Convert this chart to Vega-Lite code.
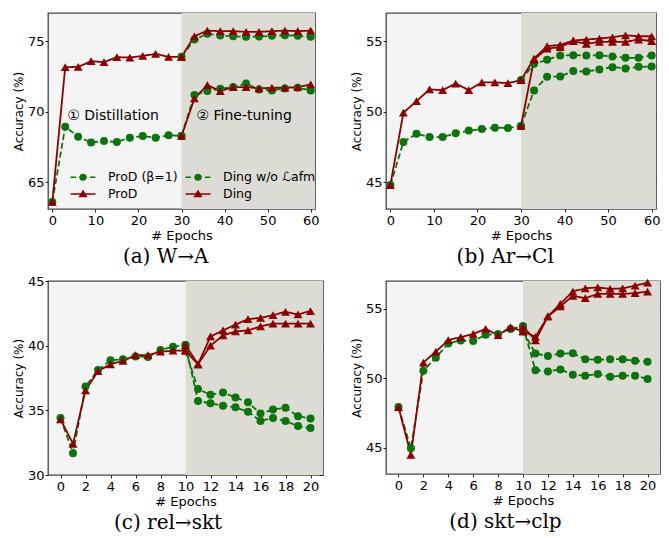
{
"$schema": "https://vega.github.io/schema/vega-lite/v6.json",
"background": "white",
"padding": {"top": 12, "left": 11, "right": 2, "bottom": 0},
"datasets": {
"phases": [
{"p":"a","phase":"① Distillation","start":0,"end":30},{"p":"a","phase":"② Fine-tuning","start":30,"end":60},
{"p":"b","phase":"① Distillation","start":0,"end":30},{"p":"b","phase":"② Fine-tuning","start":30,"end":60},
{"p":"c","phase":"① Distillation","start":0,"end":10},{"p":"c","phase":"② Fine-tuning","start":10,"end":20},
{"p":"d","phase":"① Distillation","start":0,"end":10},{"p":"d","phase":"② Fine-tuning","start":10,"end":20}
],
"acc": [
{"p":"a","r":"b1","m":"ProD (β=1)","e":0,"v":63.6},{"p":"a","r":"b1","m":"ProD (β=1)","e":3,"v":68.94},{"p":"a","r":"b1","m":"ProD (β=1)","e":6,"v":68.23},{"p":"a","r":"b1","m":"ProD (β=1)","e":9,"v":67.81},{"p":"a","r":"b1","m":"ProD (β=1)","e":12,"v":67.92},{"p":"a","r":"b1","m":"ProD (β=1)","e":15,"v":67.85},{"p":"a","r":"b1","m":"ProD (β=1)","e":18,"v":68.16},{"p":"a","r":"b1","m":"ProD (β=1)","e":21,"v":68.28},{"p":"a","r":"b1","m":"ProD (β=1)","e":24,"v":68.16},{"p":"a","r":"b1","m":"ProD (β=1)","e":27,"v":68.33},{"p":"a","r":"b1","m":"ProD (β=1)","e":30,"v":68.28},
{"p":"a","r":"w1","m":"Ding w/o ℒafm","e":30,"v":73.89},{"p":"a","r":"w1","m":"Ding w/o ℒafm","e":33,"v":75.12},{"p":"a","r":"w1","m":"Ding w/o ℒafm","e":36,"v":75.52},{"p":"a","r":"w1","m":"Ding w/o ℒafm","e":39,"v":75.4},{"p":"a","r":"w1","m":"Ding w/o ℒafm","e":42,"v":75.35},{"p":"a","r":"w1","m":"Ding w/o ℒafm","e":45,"v":75.31},{"p":"a","r":"w1","m":"Ding w/o ℒafm","e":48,"v":75.33},{"p":"a","r":"w1","m":"Ding w/o ℒafm","e":51,"v":75.38},{"p":"a","r":"w1","m":"Ding w/o ℒafm","e":54,"v":75.42},{"p":"a","r":"w1","m":"Ding w/o ℒafm","e":57,"v":75.38},{"p":"a","r":"w1","m":"Ding w/o ℒafm","e":60,"v":75.31},
{"p":"a","r":"w2","m":"Ding w/o ℒafm","e":30,"v":68.28},{"p":"a","r":"w2","m":"Ding w/o ℒafm","e":33,"v":71.18},{"p":"a","r":"w2","m":"Ding w/o ℒafm","e":36,"v":71.46},{"p":"a","r":"w2","m":"Ding w/o ℒafm","e":39,"v":71.63},{"p":"a","r":"w2","m":"Ding w/o ℒafm","e":42,"v":71.75},{"p":"a","r":"w2","m":"Ding w/o ℒafm","e":45,"v":72.0},{"p":"a","r":"w2","m":"Ding w/o ℒafm","e":48,"v":71.58},{"p":"a","r":"w2","m":"Ding w/o ℒafm","e":51,"v":71.51},{"p":"a","r":"w2","m":"Ding w/o ℒafm","e":54,"v":71.65},{"p":"a","r":"w2","m":"Ding w/o ℒafm","e":57,"v":71.7},{"p":"a","r":"w2","m":"Ding w/o ℒafm","e":60,"v":71.51},
{"p":"a","r":"pd","m":"ProD","e":0,"v":63.6},{"p":"a","r":"pd","m":"ProD","e":3,"v":73.16},{"p":"a","r":"pd","m":"ProD","e":6,"v":73.18},{"p":"a","r":"pd","m":"ProD","e":9,"v":73.58},{"p":"a","r":"pd","m":"ProD","e":12,"v":73.51},{"p":"a","r":"pd","m":"ProD","e":15,"v":73.87},{"p":"a","r":"pd","m":"ProD","e":18,"v":73.84},{"p":"a","r":"pd","m":"ProD","e":21,"v":73.96},{"p":"a","r":"pd","m":"ProD","e":24,"v":74.1},{"p":"a","r":"pd","m":"ProD","e":27,"v":73.89},{"p":"a","r":"pd","m":"ProD","e":30,"v":73.89},
{"p":"a","r":"d1","m":"Ding","e":30,"v":73.89},{"p":"a","r":"d1","m":"Ding","e":33,"v":75.35},{"p":"a","r":"d1","m":"Ding","e":36,"v":75.75},{"p":"a","r":"d1","m":"Ding","e":39,"v":75.71},{"p":"a","r":"d1","m":"Ding","e":42,"v":75.71},{"p":"a","r":"d1","m":"Ding","e":45,"v":75.66},{"p":"a","r":"d1","m":"Ding","e":48,"v":75.66},{"p":"a","r":"d1","m":"Ding","e":51,"v":75.71},{"p":"a","r":"d1","m":"Ding","e":54,"v":75.75},{"p":"a","r":"d1","m":"Ding","e":57,"v":75.71},{"p":"a","r":"d1","m":"Ding","e":60,"v":75.75},
{"p":"a","r":"d2","m":"Ding","e":30,"v":68.28},{"p":"a","r":"d2","m":"Ding","e":33,"v":70.94},{"p":"a","r":"d2","m":"Ding","e":36,"v":71.89},{"p":"a","r":"d2","m":"Ding","e":39,"v":71.46},{"p":"a","r":"d2","m":"Ding","e":42,"v":71.75},{"p":"a","r":"d2","m":"Ding","e":45,"v":71.75},{"p":"a","r":"d2","m":"Ding","e":48,"v":71.65},{"p":"a","r":"d2","m":"Ding","e":51,"v":71.7},{"p":"a","r":"d2","m":"Ding","e":54,"v":71.7},{"p":"a","r":"d2","m":"Ding","e":57,"v":71.75},{"p":"a","r":"d2","m":"Ding","e":60,"v":71.93},

{"p":"b","r":"b1","m":"ProD (β=1)","e":0,"v":44.8},{"p":"b","r":"b1","m":"ProD (β=1)","e":3,"v":47.85},{"p":"b","r":"b1","m":"ProD (β=1)","e":6,"v":48.44},{"p":"b","r":"b1","m":"ProD (β=1)","e":9,"v":48.2},{"p":"b","r":"b1","m":"ProD (β=1)","e":12,"v":48.2},{"p":"b","r":"b1","m":"ProD (β=1)","e":15,"v":48.47},{"p":"b","r":"b1","m":"ProD (β=1)","e":18,"v":48.66},{"p":"b","r":"b1","m":"ProD (β=1)","e":21,"v":48.77},{"p":"b","r":"b1","m":"ProD (β=1)","e":24,"v":48.87},{"p":"b","r":"b1","m":"ProD (β=1)","e":27,"v":48.84},{"p":"b","r":"b1","m":"ProD (β=1)","e":30,"v":48.99},
{"p":"b","r":"w1","m":"Ding w/o ℒafm","e":30,"v":52.24},{"p":"b","r":"w1","m":"Ding w/o ℒafm","e":33,"v":53.4},{"p":"b","r":"w1","m":"Ding w/o ℒafm","e":36,"v":53.68},{"p":"b","r":"w1","m":"Ding w/o ℒafm","e":39,"v":53.99},{"p":"b","r":"w1","m":"Ding w/o ℒafm","e":42,"v":54.01},{"p":"b","r":"w1","m":"Ding w/o ℒafm","e":45,"v":53.99},{"p":"b","r":"w1","m":"Ding w/o ℒafm","e":48,"v":54.0},{"p":"b","r":"w1","m":"Ding w/o ℒafm","e":51,"v":53.92},{"p":"b","r":"w1","m":"Ding w/o ℒafm","e":54,"v":53.82},{"p":"b","r":"w1","m":"Ding w/o ℒafm","e":57,"v":53.82},{"p":"b","r":"w1","m":"Ding w/o ℒafm","e":60,"v":53.99},
{"p":"b","r":"w2","m":"Ding w/o ℒafm","e":30,"v":48.99},{"p":"b","r":"w2","m":"Ding w/o ℒafm","e":33,"v":51.51},{"p":"b","r":"w2","m":"Ding w/o ℒafm","e":36,"v":52.48},{"p":"b","r":"w2","m":"Ding w/o ℒafm","e":39,"v":52.5},{"p":"b","r":"w2","m":"Ding w/o ℒafm","e":42,"v":52.88},{"p":"b","r":"w2","m":"Ding w/o ℒafm","e":45,"v":52.85},{"p":"b","r":"w2","m":"Ding w/o ℒafm","e":48,"v":53.0},{"p":"b","r":"w2","m":"Ding w/o ℒafm","e":51,"v":53.16},{"p":"b","r":"w2","m":"Ding w/o ℒafm","e":54,"v":53.07},{"p":"b","r":"w2","m":"Ding w/o ℒafm","e":57,"v":53.18},{"p":"b","r":"w2","m":"Ding w/o ℒafm","e":60,"v":53.2},
{"p":"b","r":"pd","m":"ProD","e":0,"v":44.8},{"p":"b","r":"pd","m":"ProD","e":3,"v":49.93},{"p":"b","r":"pd","m":"ProD","e":6,"v":50.75},{"p":"b","r":"pd","m":"ProD","e":9,"v":51.58},{"p":"b","r":"pd","m":"ProD","e":12,"v":51.53},{"p":"b","r":"pd","m":"ProD","e":15,"v":52.0},{"p":"b","r":"pd","m":"ProD","e":18,"v":51.53},{"p":"b","r":"pd","m":"ProD","e":21,"v":52.08},{"p":"b","r":"pd","m":"ProD","e":24,"v":52.08},{"p":"b","r":"pd","m":"ProD","e":27,"v":52.03},{"p":"b","r":"pd","m":"ProD","e":30,"v":52.24},
{"p":"b","r":"d1","m":"Ding","e":30,"v":52.24},{"p":"b","r":"d1","m":"Ding","e":33,"v":53.77},{"p":"b","r":"d1","m":"Ding","e":36,"v":54.65},{"p":"b","r":"d1","m":"Ding","e":39,"v":54.74},{"p":"b","r":"d1","m":"Ding","e":42,"v":55.05},{"p":"b","r":"d1","m":"Ding","e":45,"v":55.12},{"p":"b","r":"d1","m":"Ding","e":48,"v":55.19},{"p":"b","r":"d1","m":"Ding","e":51,"v":55.28},{"p":"b","r":"d1","m":"Ding","e":54,"v":55.42},{"p":"b","r":"d1","m":"Ding","e":57,"v":55.35},{"p":"b","r":"d1","m":"Ding","e":60,"v":55.35},
{"p":"b","r":"d2","m":"Ding","e":30,"v":48.99},{"p":"b","r":"d2","m":"Ding","e":33,"v":53.7},{"p":"b","r":"d2","m":"Ding","e":36,"v":54.48},{"p":"b","r":"d2","m":"Ding","e":39,"v":54.58},{"p":"b","r":"d2","m":"Ding","e":42,"v":55.0},{"p":"b","r":"d2","m":"Ding","e":45,"v":54.81},{"p":"b","r":"d2","m":"Ding","e":48,"v":54.95},{"p":"b","r":"d2","m":"Ding","e":51,"v":54.95},{"p":"b","r":"d2","m":"Ding","e":54,"v":54.95},{"p":"b","r":"d2","m":"Ding","e":57,"v":55.12},{"p":"b","r":"d2","m":"Ding","e":60,"v":55.0},

{"p":"c","r":"b1","m":"ProD (β=1)","e":0,"v":34.41},{"p":"c","r":"b1","m":"ProD (β=1)","e":1,"v":31.69},{"p":"c","r":"b1","m":"ProD (β=1)","e":2,"v":36.85},{"p":"c","r":"b1","m":"ProD (β=1)","e":3,"v":38.11},{"p":"c","r":"b1","m":"ProD (β=1)","e":4,"v":38.87},{"p":"c","r":"b1","m":"ProD (β=1)","e":5,"v":38.95},{"p":"c","r":"b1","m":"ProD (β=1)","e":6,"v":39.16},{"p":"c","r":"b1","m":"ProD (β=1)","e":7,"v":39.13},{"p":"c","r":"b1","m":"ProD (β=1)","e":8,"v":39.66},{"p":"c","r":"b1","m":"ProD (β=1)","e":9,"v":39.92},{"p":"c","r":"b1","m":"ProD (β=1)","e":10,"v":40.05},
{"p":"c","r":"w1","m":"Ding w/o ℒafm","e":10,"v":39.61},{"p":"c","r":"w1","m":"Ding w/o ℒafm","e":11,"v":36.64},{"p":"c","r":"w1","m":"Ding w/o ℒafm","e":12,"v":36.2},{"p":"c","r":"w1","m":"Ding w/o ℒafm","e":13,"v":36.38},{"p":"c","r":"w1","m":"Ding w/o ℒafm","e":14,"v":35.99},{"p":"c","r":"w1","m":"Ding w/o ℒafm","e":15,"v":35.62},{"p":"c","r":"w1","m":"Ding w/o ℒafm","e":16,"v":34.75},{"p":"c","r":"w1","m":"Ding w/o ℒafm","e":17,"v":35.07},{"p":"c","r":"w1","m":"Ding w/o ℒafm","e":18,"v":35.2},{"p":"c","r":"w1","m":"Ding w/o ℒafm","e":19,"v":34.55},{"p":"c","r":"w1","m":"Ding w/o ℒafm","e":20,"v":34.36},
{"p":"c","r":"w2","m":"Ding w/o ℒafm","e":10,"v":40.05},{"p":"c","r":"w2","m":"Ding w/o ℒafm","e":11,"v":35.73},{"p":"c","r":"w2","m":"Ding w/o ℒafm","e":12,"v":35.54},{"p":"c","r":"w2","m":"Ding w/o ℒafm","e":13,"v":35.36},{"p":"c","r":"w2","m":"Ding w/o ℒafm","e":14,"v":35.23},{"p":"c","r":"w2","m":"Ding w/o ℒafm","e":15,"v":34.89},{"p":"c","r":"w2","m":"Ding w/o ℒafm","e":16,"v":34.18},{"p":"c","r":"w2","m":"Ding w/o ℒafm","e":17,"v":34.41},{"p":"c","r":"w2","m":"Ding w/o ℒafm","e":18,"v":34.18},{"p":"c","r":"w2","m":"Ding w/o ℒafm","e":19,"v":33.78},{"p":"c","r":"w2","m":"Ding w/o ℒafm","e":20,"v":33.63},
{"p":"c","r":"pd","m":"ProD","e":0,"v":34.31},{"p":"c","r":"pd","m":"ProD","e":1,"v":32.4},{"p":"c","r":"pd","m":"ProD","e":2,"v":36.54},{"p":"c","r":"pd","m":"ProD","e":3,"v":38.03},{"p":"c","r":"pd","m":"ProD","e":4,"v":38.56},{"p":"c","r":"pd","m":"ProD","e":5,"v":38.82},{"p":"c","r":"pd","m":"ProD","e":6,"v":39.27},{"p":"c","r":"pd","m":"ProD","e":7,"v":39.27},{"p":"c","r":"pd","m":"ProD","e":8,"v":39.53},{"p":"c","r":"pd","m":"ProD","e":9,"v":39.61},{"p":"c","r":"pd","m":"ProD","e":10,"v":39.61},
{"p":"c","r":"d1","m":"Ding","e":10,"v":39.61},{"p":"c","r":"d1","m":"Ding","e":11,"v":38.56},{"p":"c","r":"d1","m":"Ding","e":12,"v":40.71},{"p":"c","r":"d1","m":"Ding","e":13,"v":41.18},{"p":"c","r":"d1","m":"Ding","e":14,"v":41.63},{"p":"c","r":"d1","m":"Ding","e":15,"v":42.05},{"p":"c","r":"d1","m":"Ding","e":16,"v":42.15},{"p":"c","r":"d1","m":"Ding","e":17,"v":42.36},{"p":"c","r":"d1","m":"Ding","e":18,"v":42.62},{"p":"c","r":"d1","m":"Ding","e":19,"v":42.41},{"p":"c","r":"d1","m":"Ding","e":20,"v":42.68},
{"p":"c","r":"d2","m":"Ding","e":10,"v":40.05},{"p":"c","r":"d2","m":"Ding","e":11,"v":38.56},{"p":"c","r":"d2","m":"Ding","e":12,"v":40.0},{"p":"c","r":"d2","m":"Ding","e":13,"v":40.79},{"p":"c","r":"d2","m":"Ding","e":14,"v":41.1},{"p":"c","r":"d2","m":"Ding","e":15,"v":41.18},{"p":"c","r":"d2","m":"Ding","e":16,"v":41.49},{"p":"c","r":"d2","m":"Ding","e":17,"v":41.7},{"p":"c","r":"d2","m":"Ding","e":18,"v":41.7},{"p":"c","r":"d2","m":"Ding","e":19,"v":41.7},{"p":"c","r":"d2","m":"Ding","e":20,"v":41.7},

{"p":"d","r":"b1","m":"ProD (β=1)","e":0,"v":47.92},{"p":"d","r":"b1","m":"ProD (β=1)","e":1,"v":44.95},{"p":"d","r":"b1","m":"ProD (β=1)","e":2,"v":50.53},{"p":"d","r":"b1","m":"ProD (β=1)","e":3,"v":51.48},{"p":"d","r":"b1","m":"ProD (β=1)","e":4,"v":52.5},{"p":"d","r":"b1","m":"ProD (β=1)","e":5,"v":52.72},{"p":"d","r":"b1","m":"ProD (β=1)","e":6,"v":52.67},{"p":"d","r":"b1","m":"ProD (β=1)","e":7,"v":53.12},{"p":"d","r":"b1","m":"ProD (β=1)","e":8,"v":53.19},{"p":"d","r":"b1","m":"ProD (β=1)","e":9,"v":53.55},{"p":"d","r":"b1","m":"ProD (β=1)","e":10,"v":53.74},
{"p":"d","r":"w1","m":"Ding w/o ℒafm","e":10,"v":53.38},{"p":"d","r":"w1","m":"Ding w/o ℒafm","e":11,"v":51.77},{"p":"d","r":"w1","m":"Ding w/o ℒafm","e":12,"v":51.6},{"p":"d","r":"w1","m":"Ding w/o ℒafm","e":13,"v":51.77},{"p":"d","r":"w1","m":"Ding w/o ℒafm","e":14,"v":51.79},{"p":"d","r":"w1","m":"Ding w/o ℒafm","e":15,"v":51.37},{"p":"d","r":"w1","m":"Ding w/o ℒafm","e":16,"v":51.32},{"p":"d","r":"w1","m":"Ding w/o ℒafm","e":17,"v":51.37},{"p":"d","r":"w1","m":"Ding w/o ℒafm","e":18,"v":51.37},{"p":"d","r":"w1","m":"Ding w/o ℒafm","e":19,"v":51.25},{"p":"d","r":"w1","m":"Ding w/o ℒafm","e":20,"v":51.18},
{"p":"d","r":"w2","m":"Ding w/o ℒafm","e":10,"v":53.74},{"p":"d","r":"w2","m":"Ding w/o ℒafm","e":11,"v":50.58},{"p":"d","r":"w2","m":"Ding w/o ℒafm","e":12,"v":50.49},{"p":"d","r":"w2","m":"Ding w/o ℒafm","e":13,"v":50.63},{"p":"d","r":"w2","m":"Ding w/o ℒafm","e":14,"v":50.25},{"p":"d","r":"w2","m":"Ding w/o ℒafm","e":15,"v":50.18},{"p":"d","r":"w2","m":"Ding w/o ℒafm","e":16,"v":50.3},{"p":"d","r":"w2","m":"Ding w/o ℒafm","e":17,"v":50.1},{"p":"d","r":"w2","m":"Ding w/o ℒafm","e":18,"v":50.18},{"p":"d","r":"w2","m":"Ding w/o ℒafm","e":19,"v":50.18},{"p":"d","r":"w2","m":"Ding w/o ℒafm","e":20,"v":49.95},
{"p":"d","r":"pd","m":"ProD","e":0,"v":47.92},{"p":"d","r":"pd","m":"ProD","e":1,"v":44.48},{"p":"d","r":"pd","m":"ProD","e":2,"v":51.13},{"p":"d","r":"pd","m":"ProD","e":3,"v":51.91},{"p":"d","r":"pd","m":"ProD","e":4,"v":52.74},{"p":"d","r":"pd","m":"ProD","e":5,"v":52.96},{"p":"d","r":"pd","m":"ProD","e":6,"v":53.19},{"p":"d","r":"pd","m":"ProD","e":7,"v":53.55},{"p":"d","r":"pd","m":"ProD","e":8,"v":53.1},{"p":"d","r":"pd","m":"ProD","e":9,"v":53.67},{"p":"d","r":"pd","m":"ProD","e":10,"v":53.38},
{"p":"d","r":"d1","m":"Ding","e":10,"v":53.38},{"p":"d","r":"d1","m":"Ding","e":11,"v":52.98},{"p":"d","r":"d1","m":"Ding","e":12,"v":54.45},{"p":"d","r":"d1","m":"Ding","e":13,"v":55.36},{"p":"d","r":"d1","m":"Ding","e":14,"v":56.24},{"p":"d","r":"d1","m":"Ding","e":15,"v":56.47},{"p":"d","r":"d1","m":"Ding","e":16,"v":56.54},{"p":"d","r":"d1","m":"Ding","e":17,"v":56.43},{"p":"d","r":"d1","m":"Ding","e":18,"v":56.47},{"p":"d","r":"d1","m":"Ding","e":19,"v":56.66},{"p":"d","r":"d1","m":"Ding","e":20,"v":56.88},
{"p":"d","r":"d2","m":"Ding","e":10,"v":53.74},{"p":"d","r":"d2","m":"Ding","e":11,"v":52.72},{"p":"d","r":"d2","m":"Ding","e":12,"v":54.45},{"p":"d","r":"d2","m":"Ding","e":13,"v":55.17},{"p":"d","r":"d2","m":"Ding","e":14,"v":55.93},{"p":"d","r":"d2","m":"Ding","e":15,"v":55.76},{"p":"d","r":"d2","m":"Ding","e":16,"v":56.07},{"p":"d","r":"d2","m":"Ding","e":17,"v":56.07},{"p":"d","r":"d2","m":"Ding","e":18,"v":56.07},{"p":"d","r":"d2","m":"Ding","e":19,"v":56.12},{"p":"d","r":"d2","m":"Ding","e":20,"v":56.24}
]
},
"columns": 2,
"bounds": "flush",
"spacing": {"row": 72, "column": 63},
"resolve": {
"scale": {"color": "independent", "shape": "independent", "strokeDash": "independent", "fill": "independent", "stroke": "independent"},
"legend": {"color": "independent", "shape": "independent", "strokeDash": "independent", "fill": "independent", "stroke": "independent"}
},
"concat": [
{
"width": 267, "height": 196,
"title": {"text": "(a) W→A"},
"resolve": {"axis": {"y": "independent"}, "legend": {"fill": "independent", "stroke": "independent", "shape": "independent"}},
"layer": [
{"data": {"name": "phases"}, "transform": [{"filter": "datum.p == 'a' && datum.start > 0"}],
 "mark": {"type": "rect", "color": "#dcdcd4"},
 "encoding": {"x": {"field": "start", "type": "quantitative", "scale": {"domain": [-1, 61], "nice": false, "zero": false}, "axis": {"values": [0,10,20,30,40,50,60], "title": "# Epochs"}}, "x2": {"datum": 61}}},
{"data": {"name": "phases"}, "transform": [{"filter": "datum.p == 'a'"}],
 "mark": {"type": "text", "align": "left", "baseline": "middle", "dx": 15, "fontSize": 14, "font": "DejaVu Sans", "color": "#000"},
 "encoding": {"x": {"field": "start", "type": "quantitative", "scale": {"domain": [-1, 61], "nice": false, "zero": false}, "axis": {"values": [0,10,20,30,40,50,60], "title": "# Epochs"}}, "y": {"datum": 69.7, "type": "quantitative", "scale": {"domain": [63.1, 77], "nice": false, "zero": false}, "axis": null}, "text": {"field": "phase"}}},
{"data": {"name": "acc"}, "transform": [{"filter": "datum.p == 'a'"}],
 "mark": {"type": "line", "strokeWidth": 1.8},
 "encoding": {
  "x": {"field": "e", "type": "quantitative", "scale": {"domain": [-1, 61], "nice": false, "zero": false}, "axis": {"values": [0,10,20,30,40,50,60], "title": "# Epochs"}},
  "y": {"field": "v", "type": "quantitative", "scale": {"domain": [63.1, 77], "nice": false, "zero": false}, "axis": {"values": [65,70,75], "title": "Accuracy (%)"}},
  "color": {"field": "m", "type": "nominal", "scale": {"domain": ["ProD (β=1)", "ProD", "Ding w/o ℒafm", "Ding"], "range": ["#0d730d", "#8b0000", "#0d730d", "#8b0000"]}, "legend": null},
  "strokeDash": {"field": "m", "type": "nominal", "scale": {"domain": ["ProD (β=1)", "ProD", "Ding w/o ℒafm", "Ding"], "range": [[6,3],[1,0],[6,3],[1,0]]}, "legend": null},
  "detail": {"field": "r"}}},
{"data": {"name": "acc"}, "transform": [{"filter": "datum.p == 'a' && (datum.m == 'ProD (β=1)' || datum.m == 'Ding w/o ℒafm')"}],
 "mark": {"type": "circle", "size": 64, "opacity": 1},
 "encoding": {
  "x": {"field": "e", "type": "quantitative", "scale": {"domain": [-1, 61], "nice": false, "zero": false}, "axis": {"values": [0,10,20,30,40,50,60], "title": "# Epochs"}},
  "y": {"field": "v", "type": "quantitative", "scale": {"domain": [63.1, 77], "nice": false, "zero": false}, "axis": {"orient": "right", "values": [65,70,75], "labels": false, "title": null, "tickSize": -4}},
  "color": {"field": "m", "type": "nominal", "scale": {"domain": ["ProD (β=1)", "ProD", "Ding w/o ℒafm", "Ding"], "range": ["#0d730d", "#8b0000", "#0d730d", "#8b0000"]}, "legend": null}}},
{"data": {"name": "acc"}, "transform": [{"filter": "datum.p == 'a' && (datum.m == 'ProD' || datum.m == 'Ding')"}],
 "mark": {"type": "point", "shape": "triangle-up", "filled": true, "size": 80, "opacity": 1},
 "encoding": {
  "x": {"field": "e", "type": "quantitative", "scale": {"domain": [-1, 61], "nice": false, "zero": false}, "axis": {"values": [0,10,20,30,40,50,60], "title": "# Epochs"}},
  "y": {"field": "v", "type": "quantitative", "scale": {"domain": [63.1, 77], "nice": false, "zero": false}, "axis": null},
  "color": {"field": "m", "type": "nominal", "scale": {"domain": ["ProD (β=1)", "ProD", "Ding w/o ℒafm", "Ding"], "range": ["#0d730d", "#8b0000", "#0d730d", "#8b0000"]}, "legend": null}}},
{"data": {"name": "acc"}, "transform": [{"filter": "datum.p == 'a'"}],
 "mark": {"type": "point", "filled": true, "opacity": 0},
 "encoding": {
  "x": {"field": "e", "type": "quantitative", "scale": {"domain": [-1, 61], "nice": false, "zero": false}, "axis": {"values": [0,10,20,30,40,50,60], "title": "# Epochs"}},
  "y": {"field": "v", "type": "quantitative", "scale": {"domain": [63.1, 77], "nice": false, "zero": false}, "axis": null},
  "fill": {"field": "m", "type": "nominal", "scale": {"domain": ["ProD (β=1)", "ProD", "Ding w/o ℒafm", "Ding"], "range": ["#0d730d", "#8b0000", "#0d730d", "#8b0000"]},
   "legend": {"title": null, "orient": "none", "legendX": 25, "legendY": 154, "columns": 2, "gridAlign": "each", "symbolSize": 324, "symbolStrokeWidth": 1.5, "symbolOpacity": 1, "labelFont": "DejaVu Sans", "labelFontSize": 12.5, "labelColor": "#000", "labelOffset": 15, "columnPadding": 4, "rowPadding": 0, "padding": 0, "labelLimit": 300}},
  "stroke": {"field": "m", "type": "nominal", "scale": {"domain": ["ProD (β=1)", "ProD", "Ding w/o ℒafm", "Ding"], "range": ["#0d730d", "#8b0000", "#0d730d", "#8b0000"]},
   "legend": {"title": null, "orient": "none", "legendX": 25, "legendY": 154, "columns": 2, "gridAlign": "each", "symbolSize": 324, "symbolStrokeWidth": 1.5, "symbolOpacity": 1, "labelFont": "DejaVu Sans", "labelFontSize": 12.5, "labelColor": "#000", "labelOffset": 15, "columnPadding": 4, "rowPadding": 0, "padding": 0, "labelLimit": 300}},
  "shape": {"field": "m", "type": "nominal", "scale": {"domain": ["ProD (β=1)", "ProD", "Ding w/o ℒafm", "Ding"], "range": [
    "M-1.39,0H-0.78M-0.44,0H0.44M0.78,0H1.39M-0.31,0A0.31,0.31,0,1,1,0.31,0A0.31,0.31,0,1,1,-0.31,0Z",
    "M-1.39,0H1.39M-0.36,0.28L0,-0.33L0.36,0.28Z",
    "M-1.39,0H-0.78M-0.44,0H0.44M0.78,0H1.39M-0.31,0A0.31,0.31,0,1,1,0.31,0A0.31,0.31,0,1,1,-0.31,0Z",
    "M-1.39,0H1.39M-0.36,0.28L0,-0.33L0.36,0.28Z"]},
   "legend": {"title": null, "orient": "none", "legendX": 25, "legendY": 154, "columns": 2, "gridAlign": "each", "symbolSize": 324, "symbolStrokeWidth": 1.5, "symbolOpacity": 1, "labelFont": "DejaVu Sans", "labelFontSize": 12.5, "labelColor": "#000", "labelOffset": 15, "columnPadding": 4, "rowPadding": 0, "padding": 0, "labelLimit": 300}}}}
]
},
{
"width": 270, "height": 196,
"title": {"text": "(b) Ar→Cl"},
"resolve": {"axis": {"y": "independent"}},
"layer": [
{"data": {"name": "phases"}, "transform": [{"filter": "datum.p == 'b' && datum.start > 0"}],
 "mark": {"type": "rect", "color": "#dcdcd4"},
 "encoding": {"x": {"field": "start", "type": "quantitative", "scale": {"domain": [-1, 61], "nice": false, "zero": false}, "axis": {"values": [0,10,20,30,40,50,60], "title": "# Epochs"}}, "x2": {"datum": 61}}},
{"data": {"name": "acc"}, "transform": [{"filter": "datum.p == 'b'"}],
 "mark": {"type": "line", "strokeWidth": 1.8},
 "encoding": {
  "x": {"field": "e", "type": "quantitative", "scale": {"domain": [-1, 61], "nice": false, "zero": false}, "axis": {"values": [0,10,20,30,40,50,60], "title": "# Epochs"}},
  "y": {"field": "v", "type": "quantitative", "scale": {"domain": [43.1, 57], "nice": false, "zero": false}, "axis": {"values": [45,50,55], "title": "Accuracy (%)"}},
  "color": {"field": "m", "type": "nominal", "scale": {"domain": ["ProD (β=1)", "ProD", "Ding w/o ℒafm", "Ding"], "range": ["#0d730d", "#8b0000", "#0d730d", "#8b0000"]}, "legend": null},
  "strokeDash": {"field": "m", "type": "nominal", "scale": {"domain": ["ProD (β=1)", "ProD", "Ding w/o ℒafm", "Ding"], "range": [[6,3],[1,0],[6,3],[1,0]]}, "legend": null},
  "detail": {"field": "r"}}},
{"data": {"name": "acc"}, "transform": [{"filter": "datum.p == 'b' && (datum.m == 'ProD (β=1)' || datum.m == 'Ding w/o ℒafm')"}],
 "mark": {"type": "circle", "size": 64, "opacity": 1},
 "encoding": {
  "x": {"field": "e", "type": "quantitative", "scale": {"domain": [-1, 61], "nice": false, "zero": false}, "axis": {"values": [0,10,20,30,40,50,60], "title": "# Epochs"}},
  "y": {"field": "v", "type": "quantitative", "scale": {"domain": [43.1, 57], "nice": false, "zero": false}, "axis": {"orient": "right", "values": [45,50,55], "labels": false, "title": null, "tickSize": -4}},
  "color": {"field": "m", "type": "nominal", "scale": {"domain": ["ProD (β=1)", "ProD", "Ding w/o ℒafm", "Ding"], "range": ["#0d730d", "#8b0000", "#0d730d", "#8b0000"]}, "legend": null}}},
{"data": {"name": "acc"}, "transform": [{"filter": "datum.p == 'b' && (datum.m == 'ProD' || datum.m == 'Ding')"}],
 "mark": {"type": "point", "shape": "triangle-up", "filled": true, "size": 80, "opacity": 1},
 "encoding": {
  "x": {"field": "e", "type": "quantitative", "scale": {"domain": [-1, 61], "nice": false, "zero": false}, "axis": {"values": [0,10,20,30,40,50,60], "title": "# Epochs"}},
  "y": {"field": "v", "type": "quantitative", "scale": {"domain": [43.1, 57], "nice": false, "zero": false}, "axis": null},
  "color": {"field": "m", "type": "nominal", "scale": {"domain": ["ProD (β=1)", "ProD", "Ding w/o ℒafm", "Ding"], "range": ["#0d730d", "#8b0000", "#0d730d", "#8b0000"]}, "legend": null}}}
]
},
{
"width": 275, "height": 194,
"title": {"text": "(c) rel→skt"},
"resolve": {"axis": {"y": "independent"}},
"layer": [
{"data": {"name": "phases"}, "transform": [{"filter": "datum.p == 'c' && datum.start > 0"}],
 "mark": {"type": "rect", "color": "#dcdcd4"},
 "encoding": {"x": {"field": "start", "type": "quantitative", "scale": {"domain": [-1, 21], "nice": false, "zero": false}, "axis": {"values": [0,2,4,6,8,10,12,14,16,18,20], "title": "# Epochs"}}, "x2": {"datum": 21}}},
{"data": {"name": "acc"}, "transform": [{"filter": "datum.p == 'c'"}],
 "mark": {"type": "line", "strokeWidth": 1.8},
 "encoding": {
  "x": {"field": "e", "type": "quantitative", "scale": {"domain": [-1, 21], "nice": false, "zero": false}, "axis": {"values": [0,2,4,6,8,10,12,14,16,18,20], "title": "# Epochs"}},
  "y": {"field": "v", "type": "quantitative", "scale": {"domain": [30, 45], "nice": false, "zero": false}, "axis": {"values": [30,35,40,45], "title": "Accuracy (%)"}},
  "color": {"field": "m", "type": "nominal", "scale": {"domain": ["ProD (β=1)", "ProD", "Ding w/o ℒafm", "Ding"], "range": ["#0d730d", "#8b0000", "#0d730d", "#8b0000"]}, "legend": null},
  "strokeDash": {"field": "m", "type": "nominal", "scale": {"domain": ["ProD (β=1)", "ProD", "Ding w/o ℒafm", "Ding"], "range": [[6,3],[1,0],[6,3],[1,0]]}, "legend": null},
  "detail": {"field": "r"}}},
{"data": {"name": "acc"}, "transform": [{"filter": "datum.p == 'c' && (datum.m == 'ProD (β=1)' || datum.m == 'Ding w/o ℒafm')"}],
 "mark": {"type": "circle", "size": 64, "opacity": 1},
 "encoding": {
  "x": {"field": "e", "type": "quantitative", "scale": {"domain": [-1, 21], "nice": false, "zero": false}, "axis": {"values": [0,2,4,6,8,10,12,14,16,18,20], "title": "# Epochs"}},
  "y": {"field": "v", "type": "quantitative", "scale": {"domain": [30, 45], "nice": false, "zero": false}, "axis": {"orient": "right", "values": [30,35,40,45], "labels": false, "title": null, "tickSize": -4}},
  "color": {"field": "m", "type": "nominal", "scale": {"domain": ["ProD (β=1)", "ProD", "Ding w/o ℒafm", "Ding"], "range": ["#0d730d", "#8b0000", "#0d730d", "#8b0000"]}, "legend": null}}},
{"data": {"name": "acc"}, "transform": [{"filter": "datum.p == 'c' && (datum.m == 'ProD' || datum.m == 'Ding')"}],
 "mark": {"type": "point", "shape": "triangle-up", "filled": true, "size": 80, "opacity": 1},
 "encoding": {
  "x": {"field": "e", "type": "quantitative", "scale": {"domain": [-1, 21], "nice": false, "zero": false}, "axis": {"values": [0,2,4,6,8,10,12,14,16,18,20], "title": "# Epochs"}},
  "y": {"field": "v", "type": "quantitative", "scale": {"domain": [30, 45], "nice": false, "zero": false}, "axis": null},
  "color": {"field": "m", "type": "nominal", "scale": {"domain": ["ProD (β=1)", "ProD", "Ding w/o ℒafm", "Ding"], "range": ["#0d730d", "#8b0000", "#0d730d", "#8b0000"]}, "legend": null}}}
]
},
{
"width": 274, "height": 193,
"title": {"text": "(d) skt→clp"},
"resolve": {"axis": {"y": "independent"}},
"layer": [
{"data": {"name": "phases"}, "transform": [{"filter": "datum.p == 'd' && datum.start > 0"}],
 "mark": {"type": "rect", "color": "#dcdcd4"},
 "encoding": {"x": {"field": "start", "type": "quantitative", "scale": {"domain": [-1, 21], "nice": false, "zero": false}, "axis": {"values": [0,2,4,6,8,10,12,14,16,18,20], "title": "# Epochs"}}, "x2": {"datum": 21}}},
{"data": {"name": "acc"}, "transform": [{"filter": "datum.p == 'd'"}],
 "mark": {"type": "line", "strokeWidth": 1.8},
 "encoding": {
  "x": {"field": "e", "type": "quantitative", "scale": {"domain": [-1, 21], "nice": false, "zero": false}, "axis": {"values": [0,2,4,6,8,10,12,14,16,18,20], "title": "# Epochs"}},
  "y": {"field": "v", "type": "quantitative", "scale": {"domain": [43.1, 57], "nice": false, "zero": false}, "axis": {"values": [45,50,55], "title": "Accuracy (%)"}},
  "color": {"field": "m", "type": "nominal", "scale": {"domain": ["ProD (β=1)", "ProD", "Ding w/o ℒafm", "Ding"], "range": ["#0d730d", "#8b0000", "#0d730d", "#8b0000"]}, "legend": null},
  "strokeDash": {"field": "m", "type": "nominal", "scale": {"domain": ["ProD (β=1)", "ProD", "Ding w/o ℒafm", "Ding"], "range": [[6,3],[1,0],[6,3],[1,0]]}, "legend": null},
  "detail": {"field": "r"}}},
{"data": {"name": "acc"}, "transform": [{"filter": "datum.p == 'd' && (datum.m == 'ProD (β=1)' || datum.m == 'Ding w/o ℒafm')"}],
 "mark": {"type": "circle", "size": 64, "opacity": 1},
 "encoding": {
  "x": {"field": "e", "type": "quantitative", "scale": {"domain": [-1, 21], "nice": false, "zero": false}, "axis": {"values": [0,2,4,6,8,10,12,14,16,18,20], "title": "# Epochs"}},
  "y": {"field": "v", "type": "quantitative", "scale": {"domain": [43.1, 57], "nice": false, "zero": false}, "axis": {"orient": "right", "values": [45,50,55], "labels": false, "title": null, "tickSize": -4}},
  "color": {"field": "m", "type": "nominal", "scale": {"domain": ["ProD (β=1)", "ProD", "Ding w/o ℒafm", "Ding"], "range": ["#0d730d", "#8b0000", "#0d730d", "#8b0000"]}, "legend": null}}},
{"data": {"name": "acc"}, "transform": [{"filter": "datum.p == 'd' && (datum.m == 'ProD' || datum.m == 'Ding')"}],
 "mark": {"type": "point", "shape": "triangle-up", "filled": true, "size": 80, "opacity": 1},
 "encoding": {
  "x": {"field": "e", "type": "quantitative", "scale": {"domain": [-1, 21], "nice": false, "zero": false}, "axis": {"values": [0,2,4,6,8,10,12,14,16,18,20], "title": "# Epochs"}},
  "y": {"field": "v", "type": "quantitative", "scale": {"domain": [43.1, 57], "nice": false, "zero": false}, "axis": null},
  "color": {"field": "m", "type": "nominal", "scale": {"domain": ["ProD (β=1)", "ProD", "Ding w/o ℒafm", "Ding"], "range": ["#0d730d", "#8b0000", "#0d730d", "#8b0000"]}, "legend": null}}}
]
}
],
"config": {
 "font": "DejaVu Sans",
 "view": {"fill": "#f4f4f4", "stroke": "#444", "strokeWidth": 1.3},
 "axis": {"labelFont": "DejaVu Sans", "labelFontSize": 13, "labelColor": "#000", "titleFont": "DejaVu Sans", "titleFontSize": 13, "titleFontWeight": "normal", "titleColor": "#000", "tickColor": "#222", "tickSize": 3, "tickWidth": 1, "grid": false, "domain": false, "labelPadding": 2, "titlePadding": 2, "zindex": 1, "labelFlush": false},
 "axisY": {"titleFontSize": 12, "titlePadding": 2, "labelPadding": 1},
 "title": {"orient": "bottom", "font": "DejaVu Serif", "fontSize": 20, "fontWeight": "normal", "color": "#000", "offset": 5, "anchor": "middle", "frame": "bounds"}
}
}
